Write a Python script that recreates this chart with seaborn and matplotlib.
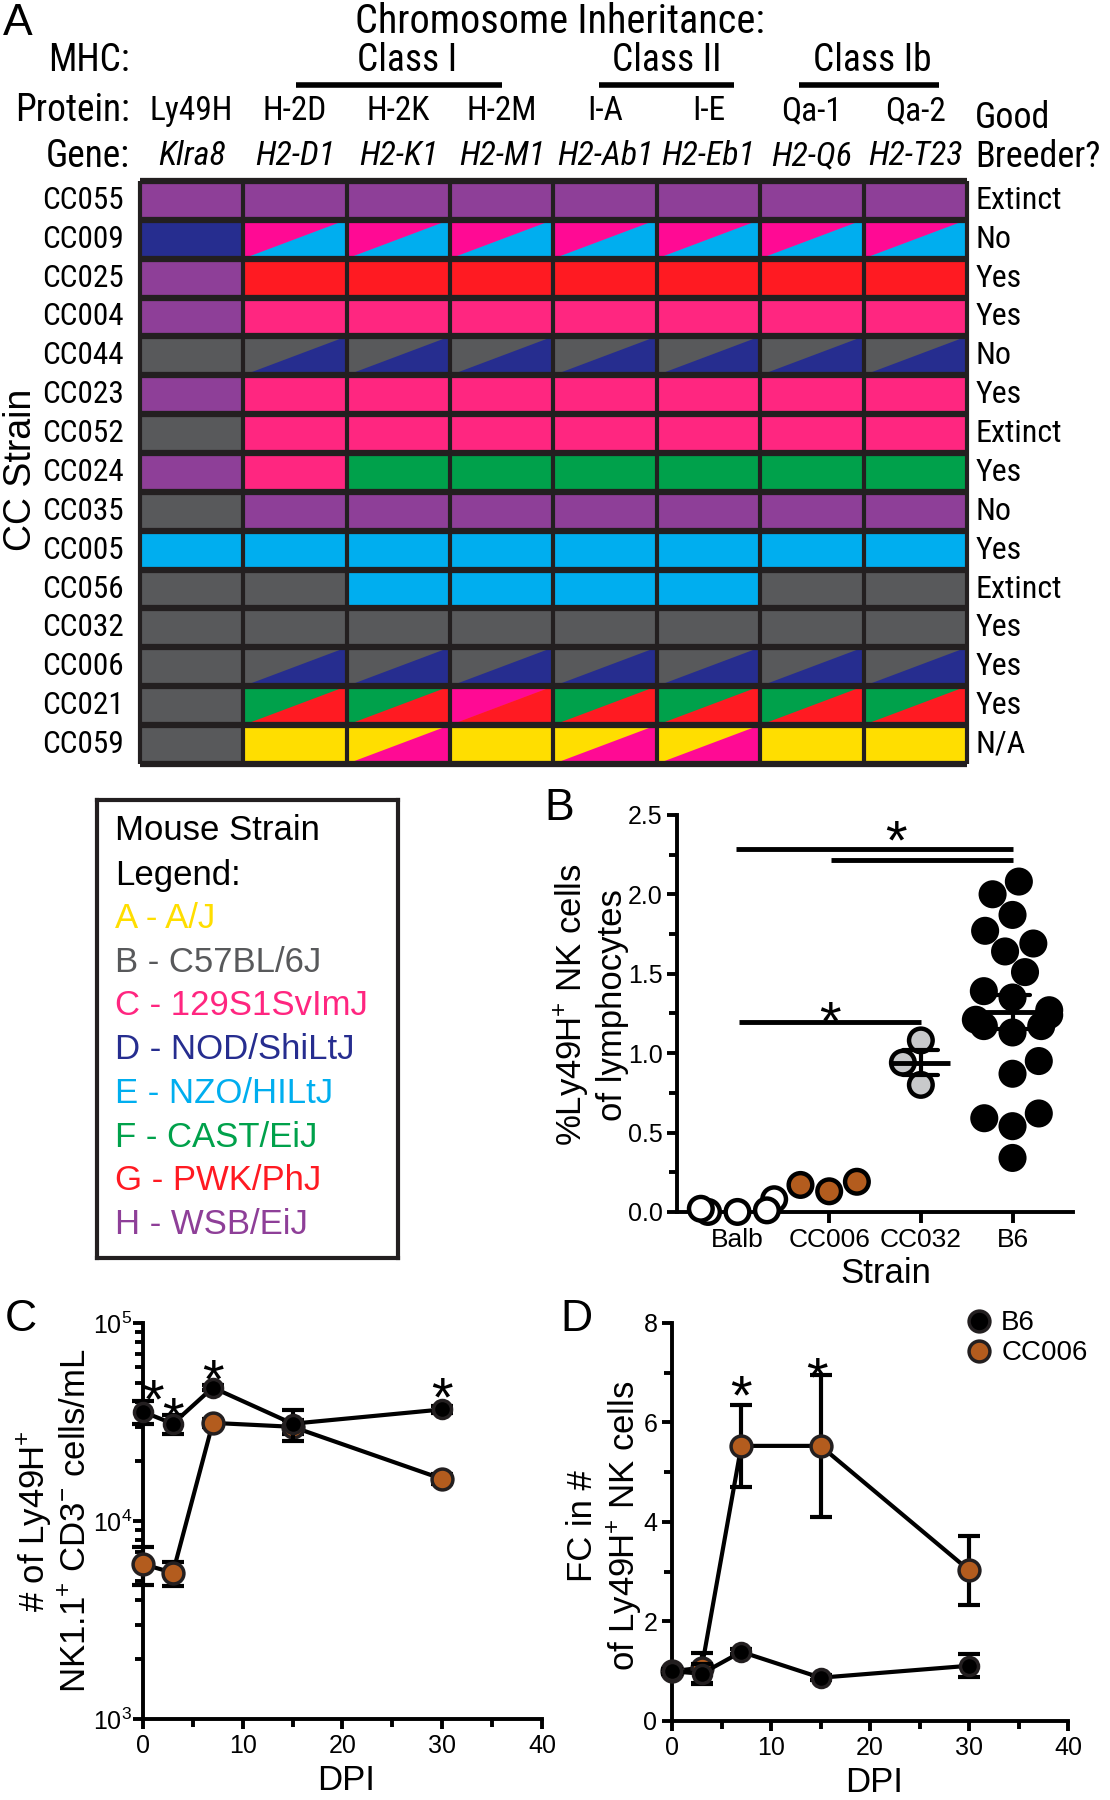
import os
import numpy as np
import pandas as pd
import matplotlib
matplotlib.use("Agg")
import matplotlib.pyplot as plt
from matplotlib import font_manager as fm
from matplotlib.colors import ListedColormap
from matplotlib.patches import Polygon
from matplotlib.lines import Line2D
from matplotlib.ticker import MultipleLocator, LogLocator, NullFormatter, FormatStrFormatter
import seaborn as sns

# ---------------- Panel A: founder inheritance ----------------
founders = list("ABCDEFGH")
founder_names = ["A/J", "C57BL/6J", "129S1SvImJ", "NOD/ShiLtJ",
                 "NZO/HILtJ", "CAST/EiJ", "PWK/PhJ", "WSB/EiJ"]
founder_colors = ["#ffde00", "#58595b", "#ff2680", "#262d8f",
                  "#00aeef", "#00a14b", "#ff1a22", "#8e3f98"]
split_pink = "#ff0a94"   # 129 shade used in the split cells

strains = ["CC055", "CC009", "CC025", "CC004", "CC044", "CC023", "CC052", "CC024",
           "CC035", "CC005", "CC056", "CC032", "CC006", "CC021", "CC059"]
proteins = ["Ly49H", "H-2D", "H-2K", "H-2M", "I-A", "I-E", "Qa-1", "Qa-2"]
genes = ["Klra8", "H2-D1", "H2-K1", "H2-M1", "H2-Ab1", "H2-Eb1", "H2-Q6", "H2-T23"]
mhc_classes = ["Class I", "Class II", "Class Ib"]
inheritance = [
    "H H H H H H H H".split(),
    "D CE CE CE CE CE CE CE".split(),
    "H G G G G G G G".split(),
    "H C C C C C C C".split(),
    "B BD BD BD BD BD BD BD".split(),
    "H C C C C C C C".split(),
    "B C C C C C C C".split(),
    "H C F F F F F F".split(),
    "B H H H H H H H".split(),
    "E E E E E E E E".split(),
    "B B E E E E B B".split(),
    "B B B B B B B B".split(),
    "B BD BD BD BD BD BD BD".split(),
    "B FG FG CG FG FG FG FG".split(),
    "B A AC A AC AC A A".split(),
]
breeder = ["Extinct", "No", "Yes", "Yes", "No", "Yes", "Extinct", "Yes",
           "No", "Yes", "Extinct", "Yes", "Yes", "Yes", "N/A"]

# ---------------- Panel B: %Ly49H+ NK cells ----------------
b_groups = ["Balb", "CC006", "CC032", "B6"]
balb_pct = [0.08, 0.01, 0.0, 0.0, 0.02]
cc006_pct = [0.13, 0.19, 0.17]
cc032_pct = [1.08, 0.94, 0.80]
b6_pct = [2.08, 2.00, 1.87, 1.77, 1.69, 1.64, 1.51, 1.39, 1.35, 1.27, 1.24,
          1.21, 1.17, 1.17, 1.13, 0.95, 0.87, 0.62, 0.59, 0.54, 0.34]

# ---------------- Panels C/D: time course ----------------
dpi = [0, 3, 7, 15, 30]
c_b6_mean = [35600, 31000, 47200, 31000, 36600]
c_b6_sem = [4600, 3500, 1500, 5500, 1500]
c_cc006_mean = [6050, 5480, 31300, 29900, 16300]
c_cc006_sem = [1300, 760, 1500, 2500, 1000]
d_b6_mean = [1.0, 0.95, 1.39, 0.87, 1.11]
d_b6_sem = [0.05, 0.20, 0.05, 0.05, 0.23]
d_cc006_mean = [1.0, 1.07, 5.53, 5.53, 3.03]
d_cc006_sem = [0.05, 0.30, 0.82, 1.42, 0.69]

orange = "#b35c1e"
dark = "#231f20"

sns.set_style("ticks")
plt.rcParams["font.family"] = ["Liberation Sans", "DejaVu Sans"]
plt.rcParams["mathtext.fontset"] = "custom"
plt.rcParams["mathtext.rm"] = "Liberation Sans"
plt.rcParams["mathtext.it"] = "Liberation Sans:italic"
plt.rcParams["mathtext.bf"] = "Liberation Sans:bold"
for k in ["text.color", "axes.labelcolor", "xtick.color", "ytick.color", "axes.edgecolor"]:
    plt.rcParams[k] = "black"


# condensed face for panel A headers, if one is installed
def find_narrow(italic):
    found = []
    for f in fm.fontManager.ttflist:
        base = os.path.basename(f.fname).lower()
        tag = f.name.lower() + " " + base
        if not ("narrow" in tag or "condensed" in tag):
            continue
        if any(w in base for w in ["bold", "light", "medium", "black", "thin", "semi", "extra"]):
            continue
        is_it = ("italic" in base) or ("oblique" in base)
        if is_it != italic:
            continue
        rank = 0 if "liberation" in tag else 1 if "roboto" in tag else 2 if "dejavu" in tag else 3
        found.append((rank, f.fname))
    return sorted(found)[0][1] if found else None


narrow_file = find_narrow(False)
narrow_it_file = find_narrow(True)
SCALE = 1.0 if narrow_file else 0.84


def nfont(size, italic=False):
    f = narrow_it_file if italic else narrow_file
    if f:
        return fm.FontProperties(fname=f, size=size)
    return fm.FontProperties(family="Liberation Sans", style="italic" if italic else "normal",
                             size=size * SCALE)


fig = plt.figure(figsize=(11.1, 18), dpi=100)

# ================= A =================
axA = fig.add_axes([0.1261, 0.5756, 0.7450, 0.3239])
codes = np.array([[founders.index(c[0]) for c in row] for row in inheritance])
sns.heatmap(codes, cmap=ListedColormap(founder_colors), vmin=-0.5, vmax=7.5,
            cbar=False, xticklabels=False, yticklabels=strains, ax=axA)


def cell_color(letter, split):
    if split and letter == "C":
        return split_pink
    return founder_colors[founders.index(letter)]


for i, row in enumerate(inheritance):
    for j, cell in enumerate(row):
        if len(cell) == 2:
            axA.add_patch(Polygon([(j, i), (j + 1, i), (j, i + 1)],
                                  color=cell_color(cell[0], True), lw=0, zorder=2))
            axA.add_patch(Polygon([(j, i + 1), (j + 1, i), (j + 1, i + 1)],
                                  color=cell_color(cell[1], True), lw=0, zorder=2))

axA.hlines(np.arange(len(strains) + 1), 0, len(genes), color=dark, lw=4.5, zorder=5, clip_on=False)
axA.vlines(np.arange(len(genes) + 1), 0, len(strains), color=dark, lw=3, zorder=5, clip_on=False)
axA.tick_params(left=False, bottom=False, pad=8)
axA.set_yticklabels(strains, rotation=0)
for t in axA.get_yticklabels():
    t.set_fontproperties(nfont(22.5))

for i, b in enumerate(breeder):
    axA.text(8.08, i + 0.5, b, ha="left", va="center", fontproperties=nfont(23))

axA.text(4.06, -4.1, "Chromosome Inheritance:", ha="center", va="center", fontproperties=nfont(29))
axA.text(-0.1, -3.11, "MHC:", ha="right", va="center", fontproperties=nfont(27))
for label, xc, (x0, x1) in zip(mhc_classes, [2.58, 5.1, 7.08], [(1.51, 3.5), (4.44, 5.75), (6.38, 7.73)]):
    axA.text(xc, -3.11, label, ha="center", va="center", fontproperties=nfont(27))
    axA.plot([x0, x1], [-2.47, -2.47], color="black", lw=4, clip_on=False, solid_capstyle="butt")
axA.text(-0.1, -1.8, "Protein:", ha="right", va="center", fontproperties=nfont(27))
axA.text(-0.1, -0.64, "Gene:", ha="right", va="center", fontproperties=nfont(27))
for j, (p, g) in enumerate(zip(proteins, genes)):
    axA.text(j + 0.5, -1.8, p, ha="center", va="center", fontproperties=nfont(24))
    axA.text(j + 0.5, -0.64, g, ha="center", va="center", fontproperties=nfont(24.5, italic=True))
axA.text(8.08, -1.62, "Good", ha="left", va="center", fontproperties=nfont(26))
axA.text(8.08, -0.62, "Breeder?", ha="left", va="center", fontproperties=nfont(26))
fig.text(0.0189, 0.7389, "CC Strain", rotation=90, ha="center", va="center", fontsize=27)

# ================= legend box =================
axL = fig.add_axes([0.0874, 0.3011, 0.2712, 0.2544])
axL.set_xticks([])
axL.set_yticks([])
for s in axL.spines.values():
    s.set_linewidth(3)
    s.set_color(dark)
axL.text(0.06, 0.934, "Mouse Strain", va="center", ha="left", fontsize=25, transform=axL.transAxes)
axL.text(0.06, 0.836, "Legend:", va="center", ha="left", fontsize=25, transform=axL.transAxes)
for k, (letter, name, col) in enumerate(zip(founders, founder_names, founder_colors)):
    axL.text(0.06, 0.742 - k * 0.0956, f"{letter} - {name}", va="center", ha="left",
             fontsize=25, color=col, transform=axL.transAxes)

# ================= B =================
axB = fig.add_axes([0.6099, 0.3267, 0.3568, 0.2206])
df_b = pd.DataFrame({
    "strain": (["Balb"] * len(balb_pct) + ["CC006"] * len(cc006_pct)
               + ["CC032"] * len(cc032_pct) + ["B6"] * len(b6_pct)),
    "pct": balb_pct + cc006_pct + cc032_pct + b6_pct,
})
b_palette = {"Balb": "white", "CC006": orange, "CC032": "#c8c9cb", "B6": "black"}
sns.swarmplot(data=df_b, x="strain", y="pct", hue="strain", order=b_groups,
              palette=b_palette, size=17, edgecolor="black", linewidth=3.2,
              legend=False, warn_thresh=1, ax=axB, zorder=3, clip_on=False)
sns.pointplot(data=df_b[df_b["strain"].isin(["CC032", "B6"])], x="strain", y="pct",
              order=b_groups, errorbar="se", capsize=0.38, color="black",
              marker="_", markersize=42, markeredgewidth=3.5, linestyle="none",
              err_kws={"linewidth": 3, "zorder": 4}, ax=axB, zorder=4)
axB.set_xlim(-0.66, 3.66)
axB.set_ylim(0, 2.5)
axB.yaxis.set_major_locator(MultipleLocator(0.5))
axB.yaxis.set_minor_locator(MultipleLocator(0.25))
axB.yaxis.set_major_formatter(FormatStrFormatter("%.1f"))
axB.set_xlabel("")
axB.set_ylabel("")

for x0, x1, y in [(-0.02, 3.0, 2.286), (1.015, 3.0, 2.213), (0.02, 2.0, 1.198)]:
    axB.plot([x0, x1], [y, y], color="black", lw=3.5, solid_capstyle="butt")
for x, y in [(1.73, 2.43), (1.01, 1.29)]:
    axB.annotate("*", (x, y), xytext=(0, -13), textcoords="offset points",
                 ha="center", va="center", fontsize=40)
axB.text(-0.217, 0.521, "%Ly49H$^{+}$ NK cells\nof lymphocytes", rotation=90, ha="center",
         va="center", multialignment="center", fontsize=25, transform=axB.transAxes)
axB.text(0.528, -0.156, "Strain", ha="center", va="center", fontsize=25, transform=axB.transAxes)

# ================= C / D =================
axC = fig.add_axes([0.1288, 0.0450, 0.3595, 0.2200])
axD = fig.add_axes([0.6054, 0.0439, 0.3568, 0.2211])

df_c = pd.DataFrame({"dpi": dpi * 2, "value": c_cc006_mean + c_b6_mean,
                     "sem": c_cc006_sem + c_b6_sem,
                     "strain": ["CC006"] * len(dpi) + ["B6"] * len(dpi)})
df_d = pd.DataFrame({"dpi": dpi * 2, "value": d_cc006_mean + d_b6_mean,
                     "sem": d_cc006_sem + d_b6_sem,
                     "strain": ["CC006"] * len(dpi) + ["B6"] * len(dpi)})

series_style = {"CC006": dict(face=orange, size=15, z=3),
                "B6": dict(face="black", size=13, z=5)}

for ax, df in [(axC, df_c), (axD, df_d)]:
    for strain in ["CC006", "B6"]:
        st = series_style[strain]
        sub = df[df["strain"] == strain]
        ax.errorbar(sub["dpi"], sub["value"], yerr=sub["sem"], fmt="none", ecolor="black",
                    elinewidth=3, capsize=8, capthick=3, zorder=st["z"] - 1, clip_on=False)
        sns.lineplot(data=sub, x="dpi", y="value", color="black", errorbar=None,
                     marker="o", markersize=st["size"], markerfacecolor=st["face"],
                     markeredgecolor=dark, markeredgewidth=2.5, linewidth=3,
                     ax=ax, zorder=st["z"], clip_on=False)
    ax.set_xlim(0, 40)
    ax.xaxis.set_major_locator(MultipleLocator(10))
    ax.xaxis.set_minor_locator(MultipleLocator(5))
    ax.set_xlabel("")
    ax.set_ylabel("")
    ax.text(0.51, -0.155, "DPI", ha="center", va="center", fontsize=25, transform=ax.transAxes)

axC.set_yscale("log")
axC.set_ylim(1e3, 1e5)
axC.yaxis.set_minor_locator(LogLocator(base=10, subs=np.arange(2, 10)))
axC.yaxis.set_minor_formatter(NullFormatter())
for x, y in [(1, 48500), (3, 39200), (7, 61100), (30, 49400)]:
    axC.annotate("*", (x, y), xytext=(0, -13), textcoords="offset points",
                 ha="center", va="center", fontsize=40)
axC.text(-0.222, 0.5, "# of Ly49H$^{+}$\nNK1.1$^{+}$ CD3$^{-}$ cells/mL", rotation=90,
         ha="center", va="center", multialignment="center", fontsize=25, transform=axC.transAxes)

axD.set_ylim(0, 8)
axD.yaxis.set_major_locator(MultipleLocator(2))
axD.yaxis.set_minor_locator(MultipleLocator(1))
for x, y in [(7, 6.83), (14.6, 7.19)]:
    axD.annotate("*", (x, y), xytext=(0, -13), textcoords="offset points",
                 ha="center", va="center", fontsize=40)
axD.text(-0.169, 0.49, "FC in #\nof Ly49H$^{+}$ NK cells", rotation=90, ha="center",
         va="center", multialignment="center", fontsize=25, transform=axD.transAxes)
handles = [Line2D([], [], linestyle="none", marker="o", markersize=15, markerfacecolor=c,
                  markeredgecolor=dark, markeredgewidth=2.5) for c in ["black", orange]]
axD.legend(handles, ["B6", "CC006"], loc="upper left", bbox_to_anchor=(0.705, 1.06),
           frameon=False, fontsize=20, handletextpad=0.2, labelspacing=0.15,
           borderaxespad=0, handlelength=1.2)

# common axis styling for B, C, D
for ax in [axB, axC, axD]:
    sns.despine(ax=ax)
    for s in ["left", "bottom"]:
        ax.spines[s].set_linewidth(2.8)
    ax.tick_params(which="both", direction="out", width=2.8, labelsize=18)
    ax.tick_params(which="major", length=7)
    ax.tick_params(which="minor", length=6)
axB.tick_params(axis="x", length=8, labelsize=19)
axC.tick_params(axis="y", pad=1)

# panel letters
for letter, (x, y) in zip("ABCD", [(0.0162, 0.987), (0.5036, 0.5506), (0.0189, 0.2667), (0.519, 0.2667)]):
    fig.text(x, y, letter, ha="center", va="center", fontsize=32)

fig.savefig("out.png", dpi=100)
